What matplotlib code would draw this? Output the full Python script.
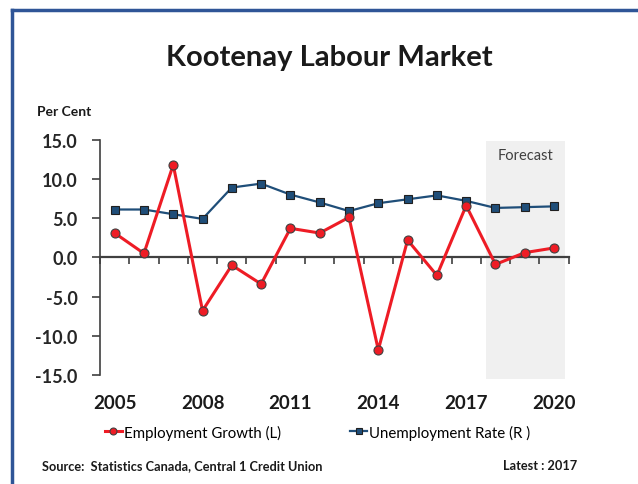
import matplotlib
matplotlib.use('Agg')
import matplotlib.pyplot as plt
from matplotlib.lines import Line2D
from matplotlib.patches import Rectangle
from matplotlib.transforms import blended_transform_factory

plt.rcParams['font.family'] = ['Lato', 'DejaVu Sans']

# data
years = list(range(2005, 2021))
employment_growth = [3.1, 0.5, 11.8, -6.8, -1.0, -3.4, 3.7, 3.1, 5.1, -11.8, 2.2, -2.3, 6.6, -0.9, 0.6, 1.2]
unemployment_rate = [6.1, 6.1, 5.5, 4.9, 8.9, 9.4, 8.0, 7.0, 5.9, 6.9, 7.4, 7.9, 7.2, 6.3, 6.4, 6.5]
labelled_years = [2005, 2008, 2011, 2014, 2017, 2020]
y_ticks = [-15, -10, -5, 0, 5, 10, 15]

W, H = 638, 485
fig = plt.figure(figsize=(W / 100, H / 100), dpi=100)
fig.patch.set_facecolor('white')

# outer frame (top and left edges visible)
border = '#2f5597'
fig.add_artist(Line2D([12 / W, 12 / W], [0, 1 - 11 / H], color=border, lw=2.5, transform=fig.transFigure))
fig.add_artist(Line2D([12 / W, 1], [1 - 11 / H, 1 - 11 / H], color=border, lw=2.5, transform=fig.transFigure))

ax = fig.add_axes([100 / W, 1 - 376 / H, 468.7 / W, 235.3 / H])
x = [i + 0.5 for i in range(len(years))]

# forecast shading
ax.add_patch(Rectangle((13.17, -15.5), 2.7, 30.35, facecolor='#f0f0f0', edgecolor='none',
                       clip_on=False, zorder=0))
ax.text(14.52, 13.05, 'Forecast', ha='center', va='center', fontsize=10.5, color='#404040')

ax.plot(x, unemployment_rate, color='#1f4e79', lw=1.6, marker='s', markersize=6,
        markerfacecolor='#1f4e79', markeredgecolor='#202020', markeredgewidth=0.8, zorder=3)
ax.plot(x, employment_growth, color='#ee1c25', lw=2.2, marker='o', markersize=6.5,
        markerfacecolor='#ee1c25', markeredgecolor='#404040', markeredgewidth=0.8, zorder=4)

ax.set_xlim(0, len(years))
ax.set_ylim(-15, 15)
ax.set_yticks(y_ticks)
ax.set_yticklabels([f'{v:.1f}' for v in y_ticks], fontweight='bold', fontsize=13, color='#262626')
ax.set_xticks(range(len(years) + 1))
ax.set_xticklabels([])

for s in ['top', 'right']:
    ax.spines[s].set_visible(False)
ax.spines['left'].set_color('#404040')
ax.spines['left'].set_linewidth(1.2)
ax.spines['bottom'].set_position(('data', 0))
ax.spines['bottom'].set_color('#404040')
ax.spines['bottom'].set_linewidth(1.6)
ax.spines['bottom'].set_zorder(2)
ax.tick_params(axis='y', direction='out', length=6, width=1.2, color='#404040', pad=10)
ax.tick_params(axis='x', direction='out', length=5, width=1.2, color='#404040')
ax.set_facecolor('none')

# year labels sit well below the plot, under their data points
trans = blended_transform_factory(ax.transData, fig.transFigure)
for yr in labelled_years:
    ax.text(years.index(yr) + 0.5, 1 - 409 / H, str(yr), transform=trans, ha='center',
            va='baseline', fontsize=13.5, fontweight='bold', color='#1a1a1a')

fig.text(329.5 / W, 1 - 66 / H, 'Kootenay Labour Market', ha='center', va='baseline',
         fontsize=21, fontweight='bold', color='#1a1a1a')
fig.text(37 / W, 1 - 112 / H, 'Per Cent', ha='left', va='center', fontsize=10,
         fontweight='bold', color='#1a1a1a')

h1 = Line2D([], [], color='#ee1c25', lw=2.2, marker='o', markersize=5,
            markerfacecolor='#ee1c25', markeredgecolor='#404040', markeredgewidth=0.8)
h2 = Line2D([], [], color='#1f4e79', lw=1.6, marker='s', markersize=5,
            markerfacecolor='#1f4e79', markeredgecolor='#202020', markeredgewidth=0.8)
fig.legend([h1, h2], ['Employment Growth (L)', 'Unemployment Rate (R )'], ncol=2,
           loc='center left', bbox_to_anchor=(105 / W, 1 - 433 / H), frameon=False,
           fontsize=10.8, handlelength=1.13, handletextpad=0.15, columnspacing=4.6,
           borderpad=0, borderaxespad=0)

fig.text(42 / W, 1 - 466 / H, 'Source:  Statistics Canada, Central 1 Credit Union', ha='left',
         va='center', fontsize=9.2, fontweight='bold', color='#1a1a1a')
fig.text(577 / W, 1 - 466 / H, 'Latest : 2017', ha='right', va='center', fontsize=9.2,
         fontweight='bold', color='#1a1a1a')

fig.savefig('out.png', dpi=100)
